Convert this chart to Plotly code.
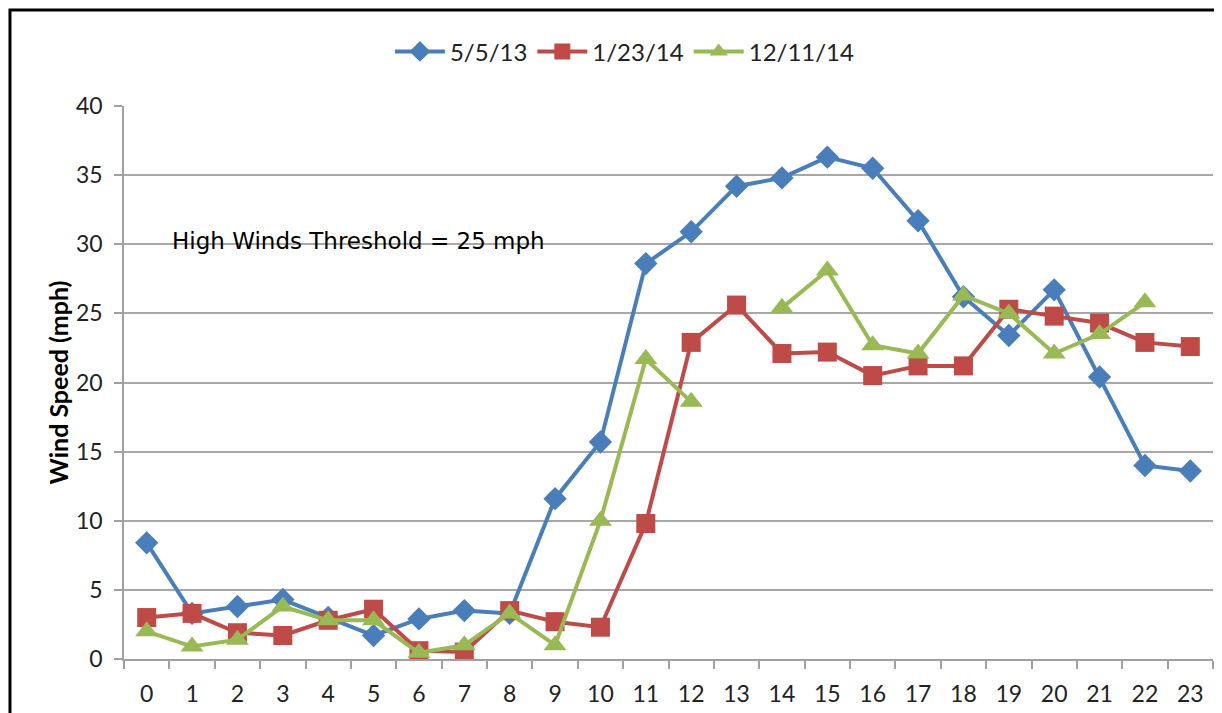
import plotly.graph_objects as go

hours = [str(h) for h in range(24)]
s_0505_13 = [8.4, 3.3, 3.8, 4.3, 3.0, 1.7, 2.9, 3.5, 3.3, 11.6, 15.7, 28.6, 30.9, 34.2,
             34.8, 36.3, 35.5, 31.7, 26.2, 23.4, 26.7, 20.4, 14.0, 13.6]
s_0123_14 = [3.0, 3.3, 1.9, 1.7, 2.8, 3.6, 0.6, 0.5, 3.5, 2.7, 2.3, 9.8, 22.9, 25.6,
             22.1, 22.2, 20.5, 21.2, 21.2, 25.3, 24.8, 24.3, 22.9, 22.6]
s_1211_14 = [2.0, 0.9, 1.4, 3.8, 2.8, 2.8, 0.45, 1.0, 3.3, 1.0, 10.0, 21.7, 18.6, None,
             25.4, 28.1, 22.7, 22.1, 26.3, 25.0, 22.1, 23.5, 25.8, None]

series = [
    ("5/5/13", s_0505_13, "#4a7ebb", "diamond", 18),
    ("1/23/14", s_0123_14, "#be4b48", "square", 19),
    ("12/11/14", s_1211_14, "#98b954", "triangle-up", 20),
]

fig = go.Figure()
for name, vals, col, sym, sz in series:
    fig.add_trace(go.Scatter(
        x=hours, y=vals, name=name, mode="lines+markers",
        line=dict(color=col, width=4),
        marker=dict(color=col, symbol=sym, size=sz),
        connectgaps=False,
    ))

fig.add_annotation(
    text="High Winds Threshold = 25 mph", xref="paper", yref="y",
    x=0.042, y=30.2, xanchor="left", yanchor="middle", showarrow=False,
    font=dict(family="DejaVu Sans", size=23, color="#000000"),
)

# outer border (left/top visible)
fig.add_shape(type="rect", xref="paper", yref="paper",
              x0=-0.1047, x1=1.2, y0=-0.3, y1=1.1736,
              line=dict(color="#000000", width=3), layer="below")

fig.update_layout(
    width=1214, height=705,
    margin=dict(l=116, r=9, t=98, b=54, autoexpand=False),
    paper_bgcolor="white", plot_bgcolor="white",
    font=dict(family="Lato", size=22, color="#222222"),
    legend=dict(orientation="h", x=0.46, xanchor="center", y=1.098, yanchor="middle",
                font=dict(size=24, color="#222222"), itemwidth=50, tracegroupgap=0),
    showlegend=True,
)
fig.update_xaxes(
    type="category", range=[-0.5, 23.5], tickson="boundaries",
    showgrid=False, showline=True, linecolor="#a0a0a0", linewidth=1.5,
    ticks="outside", ticklen=8, tickcolor="#a0a0a0", tickwidth=1.5,
    ticklabelstandoff=14,
    tickfont=dict(size=23, color="#222222"), fixedrange=True, automargin=False,
)
fig.update_yaxes(
    range=[0, 40], dtick=5, showgrid=True, gridcolor="#a8a8a8", gridwidth=1.5,
    showline=True, linecolor="#a0a0a0", linewidth=1.5, zeroline=False,
    ticks="outside", ticklen=8, tickcolor="#a0a0a0", tickwidth=1.5,
    ticklabelstandoff=7,
    tickfont=dict(size=23, color="#222222"), automargin=False,
    title=dict(text="<b>Wind Speed (mph)</b>", font=dict(size=25, color="#000000"), standoff=0),
)

fig.write_html("out.html")
